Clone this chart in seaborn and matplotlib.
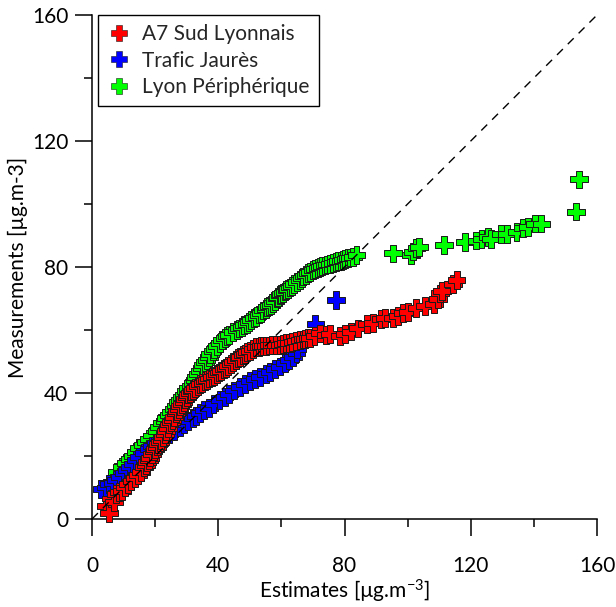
import numpy as np
import pandas as pd
import matplotlib
matplotlib.use("Agg")
import matplotlib.pyplot as plt
import seaborn as sns
from matplotlib.ticker import MultipleLocator
from matplotlib.lines import Line2D

# ---------------- data (quantile pairs) ----------------
series_names = ["A7 Sud Lyonnais", "Trafic Jaurès", "Lyon Périphérique"]
series_colors = ["#FF0000", "#0000FF", "#00FF00"]

lyon_est = [8.0, 9.5, 10.9, 12.0, 13.0, 14.0, 15.0, 16.0, 17.0, 18.0, 19.0, 20.5, 21.3, 22.0,
            23.0, 23.5, 24.3, 25.0, 25.8, 26.5, 27.2, 27.8, 28.5, 29.0, 29.8, 30.5, 31.2, 31.9,
            32.5, 33.0, 33.6, 34.2, 34.8, 35.3, 35.8, 36.3, 37.0, 37.5, 38.2, 38.8, 39.6, 40.5,
            41.3, 42.0, 42.8, 43.5, 44.6, 45.8, 46.6, 47.5, 48.2, 49.0, 49.8, 50.5, 51.3, 52.1,
            52.8, 53.5, 54.2, 55.0, 55.5, 56.0, 56.7, 57.3, 58.0, 58.5, 59.0, 59.5, 60.0, 60.5,
            61.0, 61.6, 62.2, 62.8, 63.4, 64.0, 64.9, 65.8, 66.4, 67.0, 67.8, 68.5, 69.2, 69.9,
            70.7, 71.5, 72.2, 73.0, 73.8, 74.5, 75.4, 76.3, 77.2, 78.0, 78.8, 79.5, 80.3, 81.0,
            81.8, 82.6, 83.8, 95.4, 101.2, 101.7, 102.8, 103.5, 111.4, 118.1, 121.8, 123.4,
            125.4, 126.5, 129.7, 131.5, 134.5, 136.5, 138.0, 140.3, 142.4, 153.3, 154.3]
lyon_meas = [15.0, 16.5, 17.7, 19.0, 20.0, 21.2, 22.5, 23.5, 24.5, 25.5, 26.5, 28.0, 29.2, 30.4,
             31.2, 32.0, 33.0, 34.0, 35.0, 36.0, 37.0, 37.8, 38.6, 39.5, 40.5, 41.5, 42.3, 43.2,
             44.2, 45.0, 46.0, 47.0, 48.0, 49.0, 49.8, 50.5, 51.5, 52.5, 53.3, 54.0, 55.0, 55.9,
             56.7, 57.5, 58.0, 58.5, 59.3, 60.0, 60.5, 61.0, 61.5, 62.0, 62.6, 63.2, 63.7, 64.2,
             64.9, 65.5, 66.2, 66.8, 67.2, 67.5, 68.0, 68.6, 69.3, 70.0, 70.5, 71.0, 71.4, 71.8,
             72.2, 72.7, 73.1, 73.5, 74.0, 74.5, 75.2, 75.9, 76.5, 77.0, 77.5, 78.0, 78.5, 79.0,
             79.3, 79.6, 79.9, 80.2, 80.5, 80.8, 81.0, 81.3, 81.6, 81.8, 82.0, 82.3, 82.5, 82.8,
             83.0, 83.2, 83.8, 84.3, 83.8, 84.9, 85.9, 86.3, 87.0, 87.9, 88.4, 88.8,
             89.6, 88.9, 90.4, 90.6, 91.2, 92.5, 92.8, 93.8, 93.8, 97.6, 107.8]

a7_est = [4.5, 5.5, 6.0, 7.0, 7.5, 8.5, 9.5, 10.5, 11.5, 12.5, 13.5, 14.5, 15.5, 16.5, 17.0,
          17.5, 18.0, 18.5, 19.0, 19.5, 20.0, 20.5, 21.0, 21.5, 22.0, 22.5, 23.0, 23.5, 24.0,
          24.5, 25.0, 25.5, 26.0, 26.5, 27.0, 27.5, 28.0, 28.5, 29.0, 29.5, 30.0, 30.5, 31.0,
          31.5, 32.0, 32.5, 33.5, 34.2, 35.0, 35.8, 36.5, 37.2, 38.0, 38.8, 39.5, 40.2, 41.0,
          41.8, 42.5, 43.2, 44.0, 44.8, 45.7, 46.4, 47.0, 47.8, 48.5, 49.2, 50.0, 51.0, 52.0,
          52.8, 53.5, 54.2, 55.0, 56.0, 57.0, 58.2, 59.5, 60.5, 61.5, 62.5, 63.5, 64.6, 65.8,
          66.7, 67.5, 68.3, 69.0, 70.5, 72.2, 74.0, 75.5, 78.5, 80.1, 82.0, 84.3, 87.0, 89.0,
          91.5, 92.7, 95.4, 97.0, 98.5, 100.0, 102.8, 105.5, 108.3, 109.5, 110.2, 110.8, 114.5,
          115.5]
a7_meas = [4.0, 2.0, 6.5, 5.5, 8.0, 8.5, 9.0, 10.0, 11.0, 12.0, 13.0, 14.0, 15.0, 16.5, 17.2,
           18.0, 18.8, 19.5, 20.5, 21.5, 22.2, 23.0, 23.8, 24.5, 25.2, 26.0, 27.0, 28.0, 29.0,
           30.0, 30.8, 31.5, 32.5, 33.5, 34.2, 35.0, 35.8, 36.5, 37.2, 38.0, 38.8, 39.5, 40.0,
           40.5, 41.0, 41.5, 42.3, 42.8, 43.2, 43.7, 44.2, 44.6, 45.0, 45.5, 46.0, 46.5, 47.0,
           47.5, 48.0, 48.6, 49.2, 49.8, 50.5, 51.0, 51.5, 52.0, 52.5, 52.9, 53.3, 53.9, 54.5,
           54.7, 54.8, 54.9, 55.0, 55.1, 55.2, 55.3, 55.3, 55.6, 55.8, 56.0, 56.2, 56.5, 56.8,
           57.0, 57.2, 57.4, 57.5, 58.2, 58.9, 58.5, 58.6, 58.0, 58.6, 59.5, 60.5, 61.8, 62.3,
           63.4, 63.9, 63.9, 64.5, 65.3, 65.8, 66.9, 67.5, 68.2, 69.8, 71.6, 72.3, 74.6,
           75.8]

jaures_est = [3.0, 4.5, 5.5, 6.5, 7.5, 8.8, 10.0, 11.0, 12.0, 13.0, 14.0, 15.0, 16.5, 18.0,
              19.0, 20.4, 21.5, 23.0, 24.5, 26.0, 27.8, 29.0, 30.5, 32.0, 33.0, 34.1, 35.5,
              37.0, 38.5, 40.4, 42.0, 43.5, 45.0, 46.8, 48.5, 50.0, 51.5, 53.1, 55.0, 56.5,
              58.0, 59.5, 61.0, 62.5, 63.7, 64.8, 65.0, 70.8, 77.4]
jaures_meas = [9.5, 10.0, 11.0, 11.5, 12.5, 13.4, 14.5, 15.5, 16.5, 17.5, 18.7, 19.8, 21.0,
               22.3, 23.2, 24.0, 25.0, 26.0, 27.0, 28.0, 29.3, 30.0, 31.0, 32.0, 32.8, 33.6,
               34.5, 35.3, 36.5, 37.8, 38.7, 39.7, 40.8, 42.0, 42.8, 43.7, 44.5, 45.2, 46.0,
               46.8, 47.5, 48.4, 49.5, 50.5, 51.5, 52.6, 54.0, 62.0, 69.5]

x_ticks = [0, 40, 80, 120, 160]
y_ticks = [0, 40, 80, 120, 160]

# ---------------- table for seaborn (draw order: green, blue, red) ----------------
df = pd.concat([
    pd.DataFrame({"est": lyon_est, "meas": lyon_meas, "site": series_names[2]}),
    pd.DataFrame({"est": jaures_est, "meas": jaures_meas, "site": series_names[1]}),
    pd.DataFrame({"est": a7_est, "meas": a7_meas, "site": series_names[0]}),
], ignore_index=True)

sns.set_theme(style="ticks")
plt.rcParams["font.family"] = ["Lato", "DejaVu Sans"]
plt.rcParams["mathtext.default"] = "regular"

fig = plt.figure(figsize=(6.16, 6.07), dpi=100)
ax = fig.add_axes([92 / 616, 88 / 607, 505 / 616, 504 / 607])

sns.scatterplot(data=df, x="est", y="meas", hue="site", hue_order=series_names,
                palette=series_colors, marker="P", s=165, edgecolor="#1a1a1a",
                linewidth=0.7, ax=ax, legend=False, zorder=3, clip_on=False)

ax.plot([0, 160], [0, 160], color="black", lw=1.0, ls=(0, (6, 5)), zorder=4)

ax.set_xlim(0, 160)
ax.set_ylim(0, 160)
ax.set_xticks(x_ticks)
ax.set_yticks(y_ticks)
ax.xaxis.set_minor_locator(MultipleLocator(20))
ax.yaxis.set_minor_locator(MultipleLocator(20))
ax.tick_params(which="major", direction="out", length=12, width=1.1, color="black",
               labelsize=15, labelcolor="black")
ax.tick_params(axis="x", which="major", pad=15)
ax.tick_params(axis="y", which="major", pad=5)
ax.tick_params(which="minor", direction="out", length=6, width=1.1, color="black")
for side in ["top", "right"]:
    ax.spines[side].set_visible(False)
for side in ["left", "bottom"]:
    ax.spines[side].set_linewidth(1.1)
    ax.spines[side].set_color("black")

ax.set_xlabel("Estimates [µg.m$^{-3}$]", fontsize=15, color="black", labelpad=1)
ax.set_ylabel("Measurements [µg.m-3]", fontsize=15, color="black", labelpad=3)

handles = [Line2D([], [], ls="", marker="P", markersize=12, color=c,
                  markeredgecolor="#1a1a1a", markeredgewidth=0.4)
           for c in series_colors]
leg = ax.legend(handles, series_names, loc="upper left", bbox_to_anchor=(0.012, 1.0),
                borderaxespad=0, frameon=True, fancybox=False, framealpha=1,
                edgecolor="black", fontsize=15, handletextpad=0.55, labelspacing=0.3,
                borderpad=0.45, handlelength=1.1)
leg.get_frame().set_linewidth(1.0)

fig.savefig("out.png", dpi=100)
